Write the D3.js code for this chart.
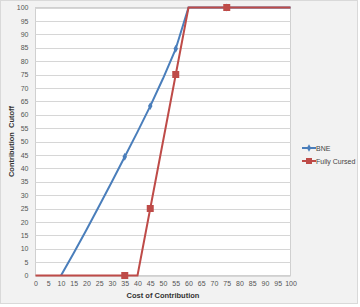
<!DOCTYPE html>
<html>
<head>
<meta charset="utf-8">
<script src="https://cdn.jsdelivr.net/npm/d3@7"></script>
<style>
  body { margin: 0; background: #fff; }
  svg { display: block; font-family: "Liberation Sans", Arial, sans-serif; }
</style>
</head>
<body>
<div id="chart"></div>
<script>
// values
var bneX = [10, 15, 20, 25, 30, 35, 40, 45, 50, 55, 60, 75, 100],
    bneY = [0, 8.4, 17.1, 26, 35.1, 44.3, 53.6, 63.2, 73.5, 84.6, 100, 100, 100],
    bneMarkX = [35, 45, 55, 75],
    cursedX = [0, 35, 40, 45, 55, 60, 75, 100],
    cursedY = [0, 0, 0, 25, 75, 100, 100, 100],
    cursedMarkX = [35, 45, 55, 75],
    xTicks = d3.range(0, 101, 5),
    yTicks = d3.range(0, 101, 5),
    seriesNames = ["BNE", "Fully Cursed"],
    seriesColors = ["#4a7ebb", "#be4b48"];

var width = 360, height = 307,
    plotLeft = 35.5, plotRight = 290.5, plotTop = 7.5, plotBottom = 275.5;

var svg = d3.select("#chart").append("svg")
    .attr("width", width).attr("height", height);

// chart area
svg.append("rect").attr("x", 0.5).attr("y", 0.5)
    .attr("width", 357).attr("height", 303)
    .attr("fill", "#f2f2f2").attr("stroke", "#d9d9d9");

var x = d3.scaleLinear().domain([0, 100]).range([plotLeft, plotRight]);
var y = d3.scaleLinear().domain([0, 100]).range([plotBottom, plotTop]);

svg.append("rect").attr("x", plotLeft).attr("y", plotTop)
    .attr("width", plotRight - plotLeft).attr("height", plotBottom - plotTop)
    .attr("fill", "#fff").attr("stroke", "#d0d0d0");

// gridlines
svg.append("g").selectAll("line").data(yTicks).enter().append("line")
    .attr("x1", plotLeft).attr("x2", plotRight)
    .attr("y1", function(d) { return Math.round(y(d)) + 0.5; })
    .attr("y2", function(d) { return Math.round(y(d)) + 0.5; })
    .attr("stroke", "#d6d6d6").attr("stroke-width", 1);

// axes
var yAxis = svg.append("g").attr("transform", "translate(" + plotLeft + ",0)")
    .call(d3.axisLeft(y).tickValues(yTicks).tickSize(0).tickPadding(7));
yAxis.select(".domain").remove();
yAxis.selectAll("text").attr("font-size", 7).attr("fill", "#555");

var xAxis = svg.append("g").attr("transform", "translate(0," + plotBottom + ")")
    .call(d3.axisBottom(x).tickValues(xTicks).tickSize(0).tickPadding(6));
xAxis.select(".domain").remove();
xAxis.selectAll("text").attr("font-size", 7).attr("fill", "#555");

svg.append("text").attr("x", (plotLeft + plotRight) / 2).attr("y", 298)
    .attr("text-anchor", "middle").attr("font-size", 7.5).attr("font-weight", "bold")
    .attr("fill", "#333").text("Cost of Contribution");

svg.append("text")
    .attr("transform", "translate(14," + ((plotTop + plotBottom) / 2) + ") rotate(-90)")
    .attr("text-anchor", "middle").attr("font-size", 7.5).attr("font-weight", "bold")
    .attr("fill", "#333").attr("xml:space", "preserve").style("white-space", "pre")
    .text("Contribution  Cutoff");

var line = d3.line()
    .x(function(d) { return x(d[0]); })
    .y(function(d) { return y(d[1]); });

var bne = d3.zip(bneX, bneY),
    cursed = d3.zip(cursedX, cursedY);

svg.append("path").datum(bne).attr("d", line)
    .attr("fill", "none").attr("stroke", seriesColors[0]).attr("stroke-width", 2)
    .attr("stroke-linejoin", "round");
svg.selectAll(".bneMark").data(bneMarkX).enter().append("path")
    .attr("class", "bneMark")
    .attr("transform", function(d) { return "translate(" + x(d) + "," + y(bneY[bneX.indexOf(d)]) + ")"; })
    .attr("d", d3.symbol().type(d3.symbolDiamond).size(18))
    .attr("fill", seriesColors[0]);

svg.append("path").datum(cursed).attr("d", line)
    .attr("fill", "none").attr("stroke", seriesColors[1]).attr("stroke-width", 2);
svg.selectAll(".cMark").data(cursedMarkX).enter().append("rect")
    .attr("class", "cMark")
    .attr("x", function(d) { return x(d) - 3.5; })
    .attr("y", function(d) { return y(cursedY[cursedX.indexOf(d)]) - 3.5; })
    .attr("width", 7).attr("height", 7)
    .attr("fill", seriesColors[1]);

// legend
var legend = svg.append("g").selectAll("g").data(seriesNames).enter().append("g")
    .attr("transform", function(d, i) { return "translate(302," + (148 + i * 13) + ")"; });
legend.append("line").attr("x1", 0).attr("x2", 14)
    .attr("stroke", function(d, i) { return seriesColors[i]; }).attr("stroke-width", 2);
legend.append("path")
    .attr("transform", "translate(7,0)")
    .attr("d", function(d, i) { return i === 0 ? d3.symbol().type(d3.symbolDiamond).size(16)() : "M-3,-3h6v6h-6z"; })
    .attr("fill", function(d, i) { return seriesColors[i]; });
legend.append("text").attr("x", 14).attr("y", 2.5)
    .attr("font-size", 7).attr("fill", "#444").text(function(d) { return d; });
</script>
</body>
</html>
